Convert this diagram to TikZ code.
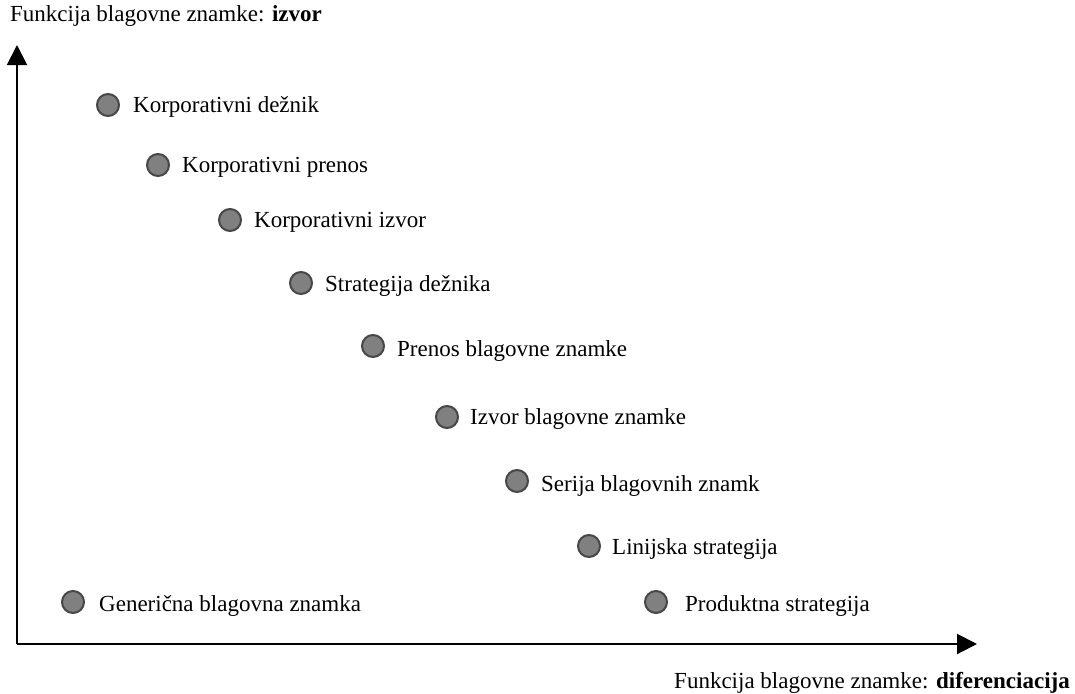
\documentclass[tikz,border=0pt]{standalone}
\usepackage{fontspec}
\setmainfont{Liberation Serif}
\usetikzlibrary{arrows.meta}
\begin{document}
\begin{tikzpicture}[x=1pt,y=-1pt,
  every node/.style={font=\fontsize{23}{27}\selectfont},
  dot/.style={circle,draw=black!72,line width=2pt,fill=black!50,minimum size=22pt,inner sep=0pt},
  lab/.style={inner sep=0pt,anchor=base west},
  axis/.style={line width=2pt,-{Triangle[length=20pt,width=20pt]}}]
\useasboundingbox (0,0) rectangle (1075,693);
\coordinate (O) at (17,644);
\coordinate (ytip) at (17,45);
\coordinate (xtip) at (977,644);
\draw[axis] (O) -- (ytip);
\draw[axis] (O) -- (xtip);
\node[inner sep=0pt,anchor=base west] (ytitle) at (10,22) {Funkcija blagovne znamke: \textbf{izvor}};
\node[inner sep=0pt,anchor=base east] (xtitle) at (1070,688) {Funkcija blagovne znamke: \textbf{diferenciacija}};
\node[dot] (d1) at (108,105) {};
\node[lab] (t1) at (133,112) {Korporativni dežnik};
\node[dot] (d2) at (158,165) {};
\node[lab] (t2) at (182,172) {Korporativni prenos};
\node[dot] (d3) at (230,220) {};
\node[lab] (t3) at (254,227) {Korporativni izvor};
\node[dot] (d4) at (301,283) {};
\node[lab] (t4) at (325,291) {Strategija dežnika};
\node[dot] (d5) at (373,346) {};
\node[lab] (t5) at (397,356) {Prenos blagovne znamke};
\node[dot] (d6) at (447,417) {};
\node[lab] (t6) at (470,424) {Izvor blagovne znamke};
\node[dot] (d7) at (517,481) {};
\node[lab] (t7) at (541,491) {Serija blagovnih znamk};
\node[dot] (d8) at (589,546) {};
\node[lab] (t8) at (612,554) {Linijska strategija};
\node[dot] (d9) at (73,602) {};
\node[lab] (t9) at (99,611) {Generična blagovna znamka};
\node[dot] (d10) at (656,602) {};
\node[lab] (t10) at (685,611) {Produktna strategija};
\end{tikzpicture}
\end{document}
